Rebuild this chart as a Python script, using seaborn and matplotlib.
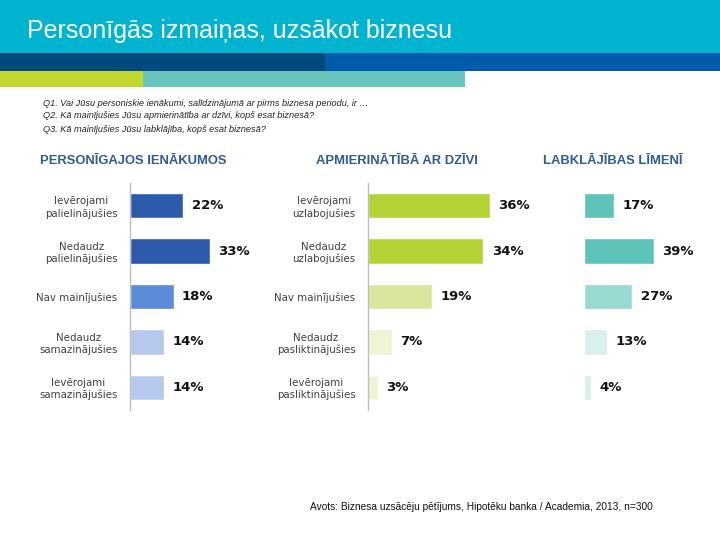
import pandas as pd
import matplotlib.pyplot as plt
import seaborn as sns
from matplotlib.patches import Rectangle

# Data
income_labels = ['Ievērojami\npalielinājušies', 'Nedaudz\npalielinājušies', 'Nav mainījušies',
                 'Nedaudz\nsamazinājušies', 'Ievērojami\nsamazinājušies']
income_values = [22, 33, 18, 14, 14]
income_colors = ['#2e5aab', '#2e5aab', '#5b8ad8', '#b6c9ec', '#b6c9ec']

life_labels = ['Ievērojami\nuzlabojušies', 'Nedaudz\nuzlabojušies', 'Nav mainījušies',
               'Nedaudz\npasliktinājušies', 'Ievērojami\npasliktinājušies']
life_values = [36, 34, 19, 7, 3]
life_colors = ['#b5d334', '#b5d334', '#d9e79c', '#eef5d4', '#eef5d4']

welfare_labels = ['w1', 'w2', 'w3', 'w4', 'w5']
welfare_values = [17, 39, 27, 13, 4]
welfare_colors = ['#5ec4b9', '#5ec4b9', '#98d9d1', '#d9f0ed', '#d9f0ed']

questions = [
    'Q1. Vai Jūsu personiskie ienākumi, salīdzinājumā ar pirms biznesa periodu, ir …',
    'Q2. Kā mainījušies Jūsu apmierinātība ar dzīvi, kopš esat biznesā?',
    'Q3. Kā mainījušies Jūsu labklājība, kopš esat biznesā?',
]

sns.set_style('white')
plt.rcParams['font.family'] = ['DejaVu Sans']
ARIAL = ['Liberation Sans', 'DejaVu Sans']

W, H = 720, 540
fig = plt.figure(figsize=(7.2, 5.4), dpi=100)


def px_rect(x, y, w, h, color):
    # rectangle in pixel coords measured from top-left
    fig.add_artist(Rectangle((x / W, 1 - (y + h) / H), w / W, h / H,
                             transform=fig.transFigure, color=color, lw=0))


# header bands
px_rect(0, 0, 720, 53, '#00b4d0')
px_rect(0, 53, 325, 18, '#004a80')
px_rect(325, 53, 395, 18, '#005cab')
px_rect(0, 71, 143, 16, '#c4d72e')
px_rect(143, 71, 322, 16, '#67c5bc')
fig.text(27 / W, 1 - 31 / H, 'Personīgās izmaiņas, uzsākot biznesu', color='white',
         fontsize=18, va='center', ha='left', family=ARIAL)

for i, q in enumerate(questions):
    fig.text(43 / W, 1 - (103 + 13 * i) / H, q, fontsize=6.6, style='italic',
             color='#222222', va='center', family=ARIAL)

fig.text(310 / W, 1 - 507 / H, 'Avots: Biznesa uzsācēju pētījums, Hipotēku banka / Academia, 2013, n=300',
         fontsize=7.3, color='#111111', va='center', family=ARIAL)


def panel(x0, width, xmax, labels, values, colors, title, title_x, show_axis):
    top, bottom = 183, 410
    ax = fig.add_axes([x0 / W, 1 - bottom / H, width / W, (bottom - top) / H])
    df = pd.DataFrame({'cat': labels, 'val': values})
    sns.barplot(data=df, x='val', y='cat', hue='cat', palette=colors, legend=False,
                width=0.56, orient='h', ax=ax, saturation=1)
    ax.set_xlim(0, xmax)
    ax.set_ylim(4.5, -0.5)
    ax.set_xlabel('')
    ax.set_ylabel('')
    ax.set_xticks([])
    for s in ['top', 'right', 'bottom']:
        ax.spines[s].set_visible(False)
    if show_axis:
        ax.spines['left'].set_color('#bfbfbf')
        ax.spines['left'].set_linewidth(1)
        ax.tick_params(axis='y', length=0, pad=9, labelsize=7.4, labelcolor='#404040')
        for t in ax.get_yticklabels():
            t.set_ha('right')
            t.set_multialignment('center')
    else:
        ax.spines['left'].set_visible(False)
        ax.set_yticks([])
    ax.patch.set_alpha(0)
    for i, v in enumerate(values):
        ax.annotate(f'{v}%', (v, i), xytext=(6, 0), textcoords='offset points',
                    va='center', ha='left', fontsize=9.5, fontweight='bold', color='#111111')
    fig.text(title_x / W, 1 - 161 / H, title, ha='center', va='center', fontsize=9.4,
             fontweight='bold', color='#2f5a92', family=ARIAL)
    return ax


panel(130, 100, 41.3, income_labels, income_values, income_colors,
      'PERSONĪGAJOS IENĀKUMOS', 133, True)
panel(368, 150, 44.2, life_labels, life_values, life_colors,
      'APMIERINĀTĪBĀ AR DZĪVI', 397, True)
panel(584, 120, 67, welfare_labels, welfare_values, welfare_colors,
      'LABKLĀJĪBAS LĪMENĪ', 613, False)

fig.savefig('out.png', dpi=100)
